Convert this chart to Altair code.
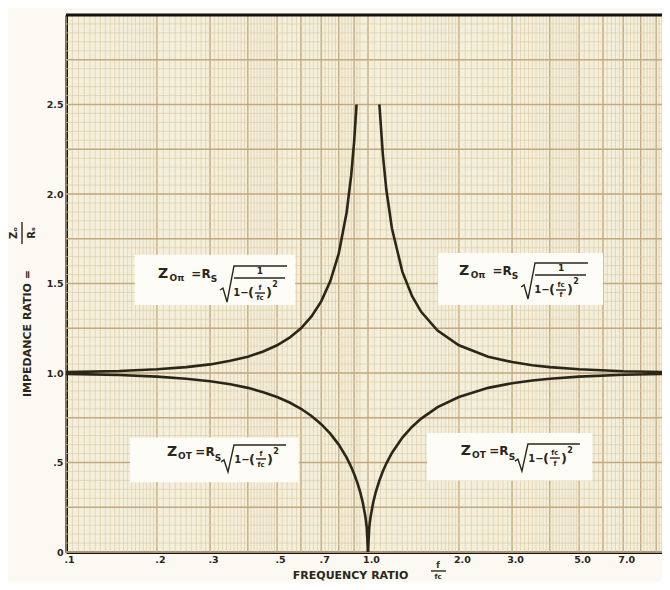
import altair as alt
import pandas as pd

# ---------------- data ----------------
# Z0pi below cutoff (f/fc < 1)
F_PI_LOW = [0.1, 0.15, 0.2, 0.25, 0.3, 0.35, 0.4, 0.45, 0.5, 0.55, 0.6, 0.65, 0.7, 0.75, 0.8, 0.85, 0.88, 0.9, 0.9165]
Z_PI_LOW = [1.005, 1.011, 1.021, 1.033, 1.048, 1.068, 1.091, 1.120, 1.155, 1.197, 1.250, 1.316, 1.400, 1.512, 1.667, 1.898, 2.105, 2.294, 2.50]
# Z0T below cutoff
F_T_LOW = [0.1, 0.15, 0.2, 0.25, 0.3, 0.35, 0.4, 0.45, 0.5, 0.55, 0.6, 0.65, 0.7, 0.75, 0.8, 0.85, 0.88, 0.9, 0.92, 0.94, 0.96, 0.98, 0.99, 1.0]
Z_T_LOW = [0.995, 0.989, 0.980, 0.968, 0.954, 0.937, 0.917, 0.893, 0.866, 0.835, 0.800, 0.760, 0.714, 0.661, 0.600, 0.527, 0.475, 0.436, 0.392, 0.341, 0.280, 0.199, 0.141, 0.0]
# Z0pi above cutoff
F_PI_HIGH = [1.091, 1.12, 1.15, 1.2, 1.3, 1.4, 1.5, 1.7, 2.0, 2.5, 3.0, 3.5, 4.0, 5.0, 7.0, 9.41]
Z_PI_HIGH = [2.50, 2.220, 2.025, 1.809, 1.565, 1.429, 1.342, 1.237, 1.155, 1.091, 1.061, 1.043, 1.033, 1.021, 1.010, 1.006]
# Z0T above cutoff
F_T_HIGH = [1.0, 1.01, 1.02, 1.04, 1.06, 1.09, 1.12, 1.15, 1.2, 1.3, 1.4, 1.5, 1.7, 2.0, 2.5, 3.0, 3.5, 4.0, 5.0, 7.0, 9.41]
Z_T_HIGH = [0.0, 0.140, 0.197, 0.275, 0.332, 0.398, 0.451, 0.494, 0.553, 0.639, 0.700, 0.745, 0.809, 0.866, 0.917, 0.943, 0.958, 0.968, 0.980, 0.990, 0.994]

X_TICKS = [0.1, 0.2, 0.3, 0.5, 0.7, 1.0, 2.0, 3.0, 5.0, 7.0]
Y_TICKS = [0, 0.5, 1.0, 1.5, 2.0, 2.5]

# graph-paper rulings
GX_MAJOR = [d * k for d in (0.1, 1.0) for k in range(1, 10)]
GX_MINOR = ([d * (1 + 0.05 * i) for d in (0.1, 1.0) for i in range(1, 20)]
            + [d * (2 + 0.1 * i) for d in (0.1, 1.0) for i in range(1, 30)]
            + [d * (5 + 0.2 * i) for d in (0.1, 1.0) for i in range(1, 23)])
GY_MAJOR = [0.25 * i for i in range(0, 13)]
GY_MINOR = [0.05 * i for i in range(0, 61)]

# ---------------- layout ----------------
W, H = 596, 537
XMAX = 9.41
YMAX = 3.0
DEC = 302.0          # px per decade
PXU = H / YMAX       # px per unit of impedance
INK = "#2b2618"
FONT = "DejaVu Sans"

curves = pd.concat([
    pd.DataFrame({"f": F_PI_LOW, "z": Z_PI_LOW, "s": "pi_low"}),
    pd.DataFrame({"f": F_T_LOW, "z": Z_T_LOW, "s": "t_low"}),
    pd.DataFrame({"f": F_PI_HIGH, "z": Z_PI_HIGH, "s": "pi_high"}),
    pd.DataFrame({"f": F_T_HIGH, "z": Z_T_HIGH, "s": "t_high"}),
])

gx = pd.DataFrame({"f": GX_MINOR + GX_MAJOR,
                   "k": ["minor"] * len(GX_MINOR) + ["major"] * len(GX_MAJOR)})
gx = gx[gx.f <= XMAX]
gy = pd.DataFrame({"z": GY_MINOR + GY_MAJOR,
                   "k": ["minor"] * len(GY_MINOR) + ["major"] * len(GY_MAJOR)})

# ---------------- annotation boxes ----------------
BOXES = [
    # name, sub, upper?, small top, small bottom, anchor f, anchor z, box f1,f2,z1,z2
    ("tl", "Oπ", True, "f", "fc", 0.2095, 1.553, 0.169, 0.574, 1.38, 1.66),
    ("tr", "Oπ", True, "fc", "f", 2.08, 1.570, 1.705, 6.0, 1.38, 1.67),
    ("bl", "OT", False, "f", "fc", 0.2244, 0.559, 0.163, 0.590, 0.39, 0.64),
    ("br", "OT", False, "fc", "f", 2.11, 0.564, 1.568, 5.53, 0.40, 0.665),
]

rects, texts, paths = [], [], []
for name, sub, upper, top, bot, fa, za, f1, f2, z1, z2 in BOXES:
    rects.append({"f": f1, "f2": f2, "z": z1, "z2": z2})
    fx = lambda dx, fa=fa: fa * 10 ** (dx / DEC)
    zy = lambda dy, za=za: za - dy / PXU
    if upper:
        pieces = [("Z", 0, 0, 14), (sub, 14, 4, 9), ("=R", 38, 0, 12), ("S", 51, 5, 9),
                  ("1", 97, -3, 9), ("1−", 78, 19, 10), ("(", 88, 19, 13),
                  (top, 97, 14, 7), (bot, 97, 24, 7), (")", 106, 19, 13), ("2", 112, 11, 8)]
        segs = [[(57, 16), (60, 14), (64, 28), (71, -8), (124, -8)],
                [(71, 4), (122, 4)], [(92, 19), (102, 19)]]
    else:
        pieces = [("Z", 0, 0, 14), (sub, 13, 4, 9), ("=R", 33, 0, 12), ("S", 46, 6, 9),
                  ("1−", 70, 8, 10), ("(", 80, 8, 13), (top, 89, 2, 7), (bot, 89, 13, 7),
                  (")", 98, 8, 13), ("2", 104, 0, 8)]
        segs = [[(49, 10), (52, 8), (56, 20), (62, -7), (114, -7)], [(84, 7), (94, 7)]]
    for t, dx, dy, sz in pieces:
        texts.append({"t": t, "f": fx(dx), "z": zy(dy), "sz": sz})
    for j, seg in enumerate(segs):
        for o, (dx, dy) in enumerate(seg):
            paths.append({"id": f"{name}{j}", "o": o, "f": fx(dx), "z": zy(dy)})

# axis-title fractions (outside the plot)
texts += [
    {"t": "f", "f": 1.706, "z": -0.076, "sz": 8},
    {"t": "fc", "f": 1.706, "z": -0.140, "sz": 7},
]
paths += [
    {"id": "xt", "o": 0, "f": 1.617, "z": -0.106},
    {"id": "xt", "o": 1, "f": 1.812, "z": -0.106},
    {"id": "yt", "o": 0, "f": 0.0715, "z": 1.844},
    {"id": "yt", "o": 1, "f": 0.0715, "z": 1.721},
]
rot_texts = pd.DataFrame([
    {"t": "Zₒ", "f": 0.0673, "z": 1.782, "sz": 10},
    {"t": "Rₛ", "f": 0.0770, "z": 1.782, "sz": 10},
])

xs = alt.Scale(type="log", domain=[0.1, XMAX])
ys = alt.Scale(domain=[0, YMAX])

x_axis = alt.Axis(
    values=X_TICKS, grid=False, ticks=False, labelFlush=False, labelOverlap=False,
    labelExpr="datum.value < 1 ? replace(format(datum.value, '.1f'), '0.', '.') : format(datum.value, '.1f')",
    labelFont=FONT, labelFontWeight="bold", labelFontSize=9.5, labelColor=INK, labelPadding=2,
    labelOffset=3,
    domainColor="#111111", domainWidth=3,
    title="FREQUENCY RATIO", titleFont=FONT, titleFontWeight="bold", titleFontSize=11,
    titleColor=INK, titleX=284, titleY=23, titleAnchor="middle", titleBaseline="middle",
)
y_axis = alt.Axis(
    values=Y_TICKS, grid=False, ticks=False,
    labelExpr="datum.value == 0 ? '0' : datum.value == 0.5 ? '.5' : format(datum.value, '.1f')",
    labelFont=FONT, labelFontWeight="bold", labelFontSize=9.5, labelColor=INK, labelPadding=3,
    domainColor="#111111", domainWidth=3,
    title="IMPEDANCE RATIO =", titleFont=FONT, titleFontWeight="bold", titleFontSize=11,
    titleColor=INK, titleX=-39, titleY=318, titleAngle=270, titleAnchor="middle",
    titleBaseline="middle", titleAlign="center",
)

X = lambda: alt.X("f:Q", scale=xs, axis=x_axis)
Y = lambda: alt.Y("z:Q", scale=ys, axis=y_axis)

gcol = alt.Color("k:N", scale=alt.Scale(domain=["minor", "major"], range=["#dccdaa", "#c2aa80"]), legend=None)
gw = alt.StrokeWidth("k:N", scale=alt.Scale(domain=["minor", "major"], range=[0.7, 1.3]), legend=None)

grid_x = alt.Chart(gx).mark_rule().encode(x=X(), color=gcol, strokeWidth=gw)
grid_y = alt.Chart(gy).mark_rule().encode(y=Y(), color=gcol, strokeWidth=gw)
boxes = alt.Chart(pd.DataFrame(rects)).mark_rect(color="#fdfcf6").encode(
    x=X(), x2="f2:Q", y=Y(), y2="z2:Q")
lines = alt.Chart(curves).mark_line(color=INK, strokeWidth=2.6).encode(
    x=X(), y=Y(), detail="s:N", order="f:Q")
labels = alt.Chart(pd.DataFrame(texts)).mark_text(
    font=FONT, fontWeight="bold", color=INK, baseline="middle", align="center").encode(
    x=X(), y=Y(), text="t:N", size=alt.Size("sz:Q", scale=None))
rot = alt.Chart(rot_texts).mark_text(
    font=FONT, fontWeight="bold", color=INK, baseline="middle", align="center", angle=270).encode(
    x=X(), y=Y(), text="t:N", size=alt.Size("sz:Q", scale=None))
strokes = alt.Chart(pd.DataFrame(paths)).mark_line(color=INK, strokeWidth=1.4).encode(
    x=X(), y=Y(), detail="id:N", order="o:Q")
top = alt.Chart(pd.DataFrame({"z": [YMAX]})).mark_rule(color="#111111", strokeWidth=3).encode(y=Y())

chart = alt.layer(grid_x, grid_y, boxes, lines, labels, rot, strokes, top).resolve_scale(
    color="independent", strokeWidth="independent"
).properties(
    width=W, height=H,
    autosize=alt.AutoSizeParams(type="none"),
    padding={"left": 58, "top": 7, "right": 0, "bottom": 30},
    background="#fbf9f1",
).configure_view(fill="#f4efdb", stroke=None)

chart.save("out.html", embed_options={"renderer": "svg", "actions": False})
